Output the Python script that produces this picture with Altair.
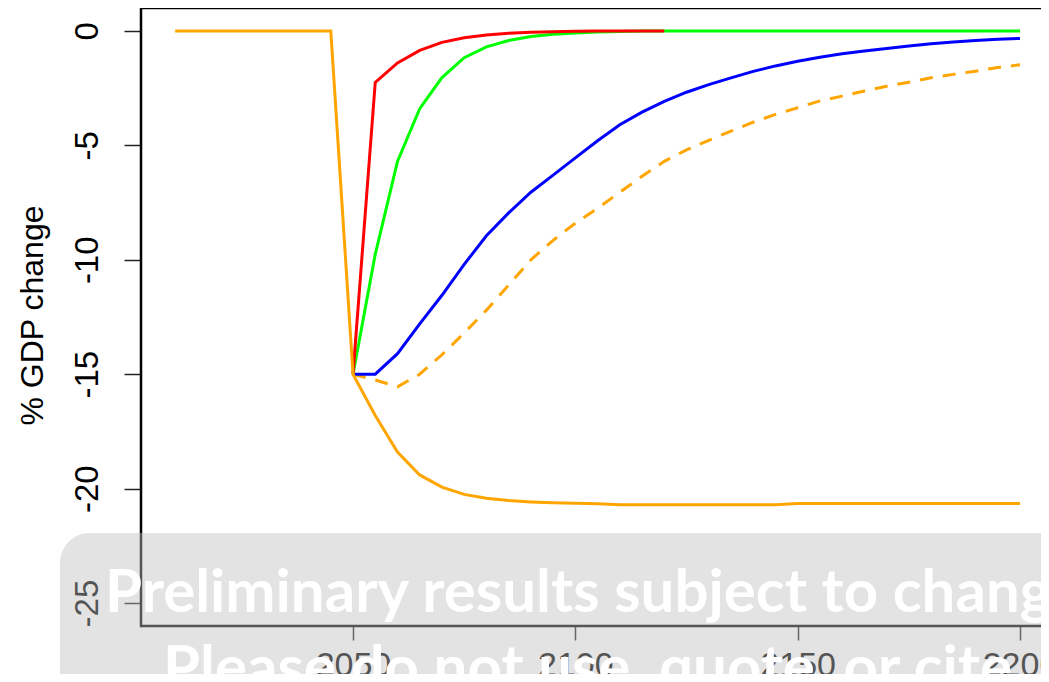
import altair as alt
import pandas as pd

# ---- data ----
years_full = list(range(2010, 2205, 5))   # 2010..2200
years_post = list(range(2050, 2205, 5))   # 2050..2200
years_red = list(range(2050, 2125, 5))    # 2050..2120

orange_solid = [0, 0, 0, 0, 0, 0, 0, 0,
                -15, -16.8, -18.4, -19.4, -19.93, -20.25, -20.42, -20.52, -20.58, -20.62,
                -20.64, -20.66, -20.7, -20.7, -20.7, -20.7, -20.7, -20.7, -20.7, -20.7,
                -20.65, -20.65, -20.65, -20.65, -20.65, -20.65, -20.65, -20.65, -20.65,
                -20.65, -20.65]

red = [-15, -2.25, -1.4, -0.85, -0.5, -0.3, -0.18, -0.1, -0.06, -0.04, -0.02, -0.01,
       0, 0, 0]

green = [-15, -9.76, -5.7, -3.4, -2.04, -1.17, -0.7, -0.42, -0.25, -0.15, -0.09, -0.05,
         -0.03, -0.01, 0, 0, 0, 0, 0, 0, 0, 0, 0, 0, 0, 0, 0, 0, 0, 0, 0]

blue = [-15, -15, -14.1, -12.8, -11.55, -10.2, -8.95, -7.95, -7.05, -6.3, -5.55, -4.8,
        -4.1, -3.55, -3.08, -2.68, -2.35, -2.05, -1.77, -1.53, -1.33, -1.15, -1.0, -0.88,
        -0.77, -0.66, -0.56, -0.49, -0.42, -0.37, -0.33]

orange_dashed = [-15, -15.25, -15.55, -15.0, -14.15, -13.2, -12.2, -11.1, -10.0, -9.15,
                 -8.4, -7.75, -7.05, -6.35, -5.7, -5.2, -4.78, -4.38, -3.99, -3.65, -3.36,
                 -3.06, -2.85, -2.63, -2.42, -2.24, -2.05, -1.9, -1.76, -1.6, -1.48]

x_ticks = [2050, 2100, 2150, 2200]
y_ticks = [0, -5, -10, -15, -20, -25]
y_title = "% GDP change"
note_line1 = "Preliminary results subject to change"
note_line2 = "Please do not use, quote, or cite."

series_specs = [
    ("orange_dashed", years_post, orange_dashed, "#FFA500", [13, 10]),
    ("blue", years_post, blue, "#0000FF", None),
    ("green", years_post, green, "#00FF00", None),
    ("red", years_red, red, "#FF0000", None),
    ("orange_solid", years_full, orange_solid, "#FFA500", None),
]

rows = []
for name, yrs, vals, _, _ in series_specs:
    for yr, v in zip(yrs, vals):
        rows.append({"series": name, "year": yr, "value": v})
df = pd.DataFrame(rows)

FONT = "Liberation Sans"
W, H = 900, 618

x_enc = alt.X(
    "year:Q",
    scale=alt.Scale(domain=[2002.32, 2204.72], nice=False, zero=False),
    axis=alt.Axis(values=x_ticks, format="d", title=None, grid=False, domain=False,
                  tickSize=14, tickColor="#222", tickWidth=1.5,
                  labelFont=FONT, labelFontSize=34, labelColor="#000",
                  labelPadding=8, labelAlign="center", labelBaseline="top",
                  labelOverlap=False, labelBound=False, labelFlush=False, zindex=0),
)
y_enc = alt.Y(
    "value:Q",
    scale=alt.Scale(domain=[-26, 1], nice=False, zero=False),
    axis=alt.Axis(values=y_ticks, title=y_title, grid=False, domain=False,
                  labelExpr="'' + datum.value",
                  tickSize=17, tickColor="#222", tickWidth=1.5,
                  labelFont=FONT, labelFontSize=33, labelColor="#000",
                  labelAngle=270, labelAlign="center", labelBaseline="alphabetic",
                  labelPadding=27, labelOverlap=False, labelFlush=False,
                  titleFont=FONT, titleFontSize=32, titleFontWeight="normal",
                  titleColor="#000", titleAngle=270, titleAlign="center",
                  titleBaseline="alphabetic", titleX=-99, titleY=307, zindex=0),
)

base = alt.Chart(df).encode(x=x_enc, y=y_enc)

layers = []
for name, _, _, color, dash in series_specs:
    kw = dict(color=color, strokeWidth=3, clip=False)
    if dash:
        kw["strokeDash"] = dash
    layers.append(base.transform_filter(alt.datum.series == name).mark_line(**kw))

one = alt.Data(values=[{"k": 1}])
frame_top = alt.Chart(one).mark_rule(color="black", strokeWidth=2.5).encode(
    x=alt.value(0), x2=alt.value(W + 20), y=alt.value(0))
frame_left = alt.Chart(one).mark_rule(color="black", strokeWidth=2.5).encode(
    x=alt.value(0), y=alt.value(-1.2), y2=alt.value(H + 1.2))
frame_bottom = alt.Chart(one).mark_rule(color="black", strokeWidth=2.5).encode(
    x=alt.value(0), x2=alt.value(W + 20), y=alt.value(H))

overlay_box = alt.Chart(one).mark_rect(
    fill="#c0c0c0", opacity=0.44, cornerRadius=30
).encode(
    x=alt.value(-81), x2=alt.value(1200), y=alt.value(525), y2=alt.value(900)
)

text1 = alt.Chart(pd.DataFrame({"t": [note_line1]})).mark_text(
    font="Lato", fontWeight="bold", fontSize=60, color="white",
    align="left", baseline="alphabetic"
).encode(x=alt.value(-36), y=alt.value(604), text="t:N")

text2 = alt.Chart(pd.DataFrame({"t": [note_line2]})).mark_text(
    font="Lato", fontWeight="bold", fontSize=60, color="white",
    align="left", baseline="alphabetic"
).encode(x=alt.value(22), y=alt.value(680), text="t:N")

chart = alt.layer(
    frame_top, frame_left, frame_bottom, *layers, overlay_box, text1, text2
).properties(
    width=W, height=H,
    autosize=alt.AutoSizeParams(type="none"),
    padding={"left": 133, "top": 0, "right": 0, "bottom": 48},
).configure_view(stroke=None)

chart.save("out.html", embed_options={"renderer": "svg", "actions": False})
